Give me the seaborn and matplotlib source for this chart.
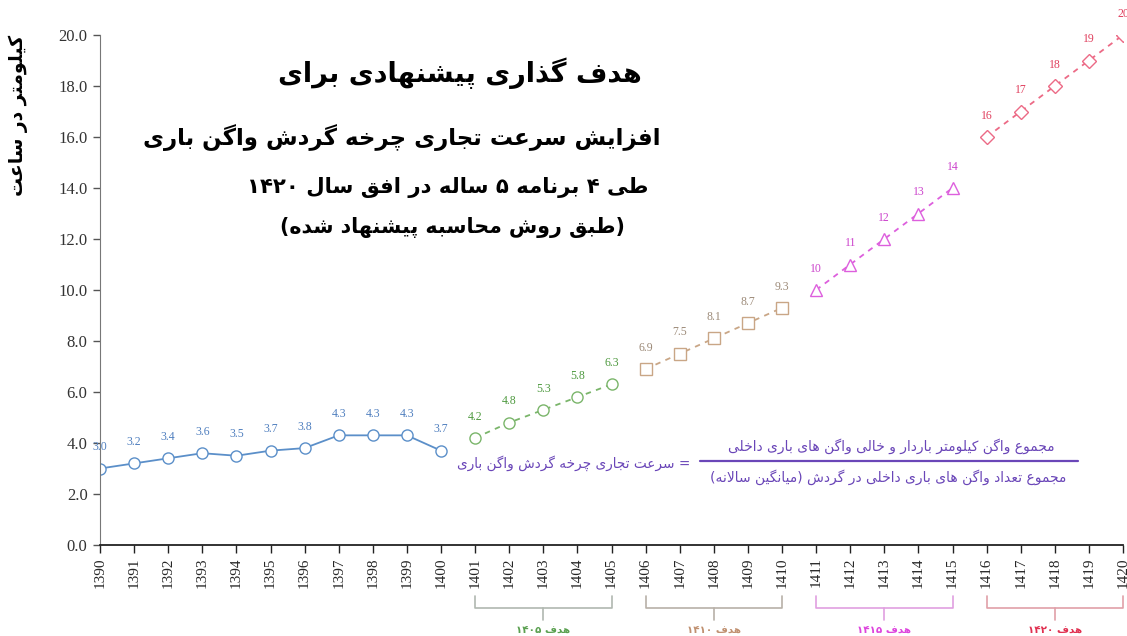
import matplotlib
matplotlib.use("Agg")
import matplotlib.pyplot as plt
import matplotlib.transforms as mtransforms
import seaborn as sns
import pandas as pd

# ---------------- data ----------------
years_hist = [1390, 1391, 1392, 1393, 1394, 1395, 1396, 1397, 1398, 1399, 1400]
vals_hist = [3.0, 3.2, 3.4, 3.6, 3.5, 3.7, 3.8, 4.3, 4.3, 4.3, 3.7]

years_g1 = [1401, 1402, 1403, 1404, 1405]
vals_g1 = [4.2, 4.8, 5.3, 5.8, 6.3]

years_g2 = [1406, 1407, 1408, 1409, 1410]
vals_g2 = [6.9, 7.5, 8.1, 8.7, 9.3]

years_g3 = [1411, 1412, 1413, 1414, 1415]
vals_g3 = [10, 11, 12, 13, 14]

years_g4 = [1416, 1417, 1418, 1419, 1420]
vals_g4 = [16, 17, 18, 19, 20]

all_years = years_hist + years_g1 + years_g2 + years_g3 + years_g4
y_ticks = [0, 2, 4, 6, 8, 10, 12, 14, 16, 18, 20]

title_lines = [
    "هدف گذاری پیشنهادی برای",
    "افزایش سرعت تجاری چرخه گردش واگن باری",
    "طی ۴ برنامه ۵ ساله در افق سال ۱۴۲۰",
    "(طبق روش محاسبه پیشنهاد شده)",
]
y_label = "کیلومتر در ساعت"
formula_lhs = "= سرعت تجاری چرخه گردش واگن باری"
formula_num = "مجموع واگن کیلومتر باردار و خالی واگن های باری داخلی"
formula_den = "مجموع تعداد واگن های باری داخلی در گردش (میانگین سالانه)"
group_labels = ["هدف ۱۴۰۵", "هدف ۱۴۱۰", "هدف ۱۴۱۵", "هدف ۱۴۲۰"]

# ---------------- minimal Persian shaping ----------------
DUAL = {
    'ب': 0xFE8F, 'ت': 0xFE95, 'ث': 0xFE99, 'ج': 0xFE9D, 'ح': 0xFEA1, 'خ': 0xFEA5,
    'س': 0xFEB1, 'ش': 0xFEB5, 'ص': 0xFEB9, 'ض': 0xFEBD, 'ط': 0xFEC1, 'ظ': 0xFEC5,
    'ع': 0xFEC9, 'غ': 0xFECD, 'ف': 0xFED1, 'ق': 0xFED5, 'ل': 0xFEDD, 'م': 0xFEE1,
    'ن': 0xFEE5, 'ه': 0xFEE9, 'ئ': 0xFE89,
    'پ': 0xFB56, 'چ': 0xFB7A, 'ک': 0xFB8E, 'گ': 0xFB92, 'ی': 0xFBFC,
}
RIGHT = {
    'ا': 0xFE8D, 'آ': 0xFE81, 'د': 0xFEA9, 'ذ': 0xFEAB, 'ر': 0xFEAD, 'ز': 0xFEAF,
    'و': 0xFEED, 'ژ': 0xFB8A,
}
MIRROR = {'(': ')', ')': '('}


def _joins(c):
    return c in DUAL or c in RIGHT


def shape(s):
    s = s.replace('ي', 'ی').replace('ك', 'ک')
    chars = list(s)
    out = []
    i = 0
    while i < len(chars):
        c = chars[i]
        prev = chars[i - 1] if i > 0 else None
        nxt = chars[i + 1] if i + 1 < len(chars) else None
        jp = prev in DUAL
        if c == 'ل' and nxt in ('ا', 'آ'):
            base = 0xFEFB if nxt == 'ا' else 0xFEF5
            out.append(chr(base + (1 if jp else 0)))
            i += 2
            continue
        if c in DUAL:
            b = DUAL[c]
            jn = nxt is not None and _joins(nxt)
            if jp and jn:
                out.append(chr(b + 3))
            elif jp:
                out.append(chr(b + 1))
            elif jn:
                out.append(chr(b + 2))
            else:
                out.append(chr(b))
        elif c in RIGHT:
            out.append(chr(RIGHT[c] + (1 if jp else 0)))
        else:
            out.append(c)
        i += 1
    return out


def rtl(s):
    shaped = shape(s)
    tokens = []
    for ch in shaped:
        d = ch.isdigit() or ch == '.'
        if tokens and tokens[-1][0] == d:
            tokens[-1][1].append(ch)
        else:
            tokens.append([d, [ch]])
    res = []
    for d, toks in reversed(tokens):
        if d:
            res.append(''.join(toks))
        else:
            res.append(''.join(MIRROR.get(c, c) for c in reversed(toks)))
    return ''.join(res)


# ---------------- figure ----------------
sns.set_style("ticks")
plt.rcParams['font.family'] = ['DejaVu Sans']

W, H = 1127, 636
fig = plt.figure(figsize=(W / 100, H / 100), dpi=100)
ax = fig.add_axes([100 / W, 1 - 545 / H, (1123 - 100) / W, (545 - 35) / H])

series = [
    (years_hist, vals_hist, "#5b8fc9", "#4f7fbf", "o", "-"),
    (years_g1, vals_g1, "#7ab56a", "#4f9a40", "o", (0, (3, 3))),
    (years_g2, vals_g2, "#c9a686", "#9c8a78", "s", (0, (3, 3))),
    (years_g3, vals_g3, "#dd5fdd", "#cc44cc", "^", (0, (3, 3))),
    (years_g4, vals_g4, "#ec6a86", "#e0405e", "D", (0, (3, 3))),
]

for xs, ys, col, lcol, mk, ls in series:
    df = pd.DataFrame({"year": xs, "val": ys})
    sns.lineplot(data=df, x="year", y="val", ax=ax, color=col, linestyle=ls,
                 linewidth=1.3, marker=mk, markersize=8 if mk != "D" else 7,
                 markerfacecolor="white", markeredgecolor=col,
                 markeredgewidth=1.0)
    for x, y in zip(xs, ys):
        txt = f"{y:.1f}" if isinstance(y, float) else f"{y}"
        ax.annotate(txt, (x, y), xytext=(0, 11), textcoords="offset points",
                    ha="center", va="bottom", fontsize=8.5, color=lcol,
                    family="Liberation Serif")

ax.set_xlim(1390, 1420)
ax.set_ylim(0, 20)
ax.set_xticks(all_years)
ax.set_xticklabels([str(y) for y in all_years], rotation=90,
                   family="Liberation Serif", fontsize=11)
ax.set_yticks(y_ticks)
ax.set_yticklabels([f"{v:.1f}" for v in y_ticks], family="Liberation Serif",
                   fontsize=12, color="#333333")
ax.tick_params(axis="x", direction="out", length=6, width=1, color="#222222", pad=3)
ax.tick_params(axis="y", direction="out", length=5, width=1, color="#555555", pad=4)
ax.set_xlabel("")
ax.set_ylabel("")
for sp in ["top", "right"]:
    ax.spines[sp].set_visible(False)
ax.spines["left"].set_color("#777777")
ax.spines["bottom"].set_color("#222222")
ax.spines["bottom"].set_linewidth(1.3)

# y label
fig.text(18 / W, 1 - 115 / H, rtl(y_label), rotation=90, ha="center", va="center",
         fontsize=13.5, fontweight="bold", color="black")

# titles
title_pos = [(460, 73, 19.5), (402, 138, 16.5), (448, 187, 15.3), (452, 228, 14.8)]
for line, (cx, cy, fs) in zip(title_lines, title_pos):
    fig.text(cx / W, 1 - cy / H, rtl(line), ha="center", va="center",
             fontsize=fs, fontweight="bold", color="black")

# formula
fcol = "#6a46b8"
fig.text(690 / W, 1 - 463 / H, rtl(formula_lhs), ha="right", va="center",
         fontsize=9.8, color=fcol)
fig.text(891 / W, 1 - 446 / H, rtl(formula_num), ha="center", va="center",
         fontsize=10, color=fcol)
fig.text(888 / W, 1 - 477 / H, rtl(formula_den), ha="center", va="center",
         fontsize=10, color=fcol)
fig.add_artist(plt.Line2D([700 / W, 1078 / W], [1 - 461 / H, 1 - 461 / H],
                          color=fcol, lw=1.6, transform=fig.transFigure))

# group brackets under the x axis
trans = mtransforms.blended_transform_factory(ax.transData, ax.transAxes)
group_spans = [(years_g1[0], years_g1[-1]), (years_g2[0], years_g2[-1]),
               (years_g3[0], years_g3[-1]), (years_g4[0], years_g4[-1])]
group_cols = ["#5aa050", "#c09070", "#dd44dd", "#e03050"]
bcol = ["#b0b8b0", "#b8b0a8", "#e0a0e0", "#e0a0a8"]
y_top, y_bar, y_stem, y_txt = -0.100, -0.124, -0.147, -0.168
for (a, b), tc, lc, lab in zip(group_spans, group_cols, bcol, group_labels):
    ax.plot([a, a, b, b], [y_top, y_bar, y_bar, y_top], color=lc, lw=1.2,
            transform=trans, clip_on=False)
    mid = (a + b) / 2
    ax.plot([mid, mid], [y_bar, y_stem], color=lc, lw=1.2, transform=trans,
            clip_on=False)
    ax.text(mid, y_txt, rtl(lab), transform=trans, ha="center", va="center",
            fontsize=7.5, fontweight="bold", color=tc, clip_on=False)

fig.savefig("out.png", dpi=100, facecolor="white")
